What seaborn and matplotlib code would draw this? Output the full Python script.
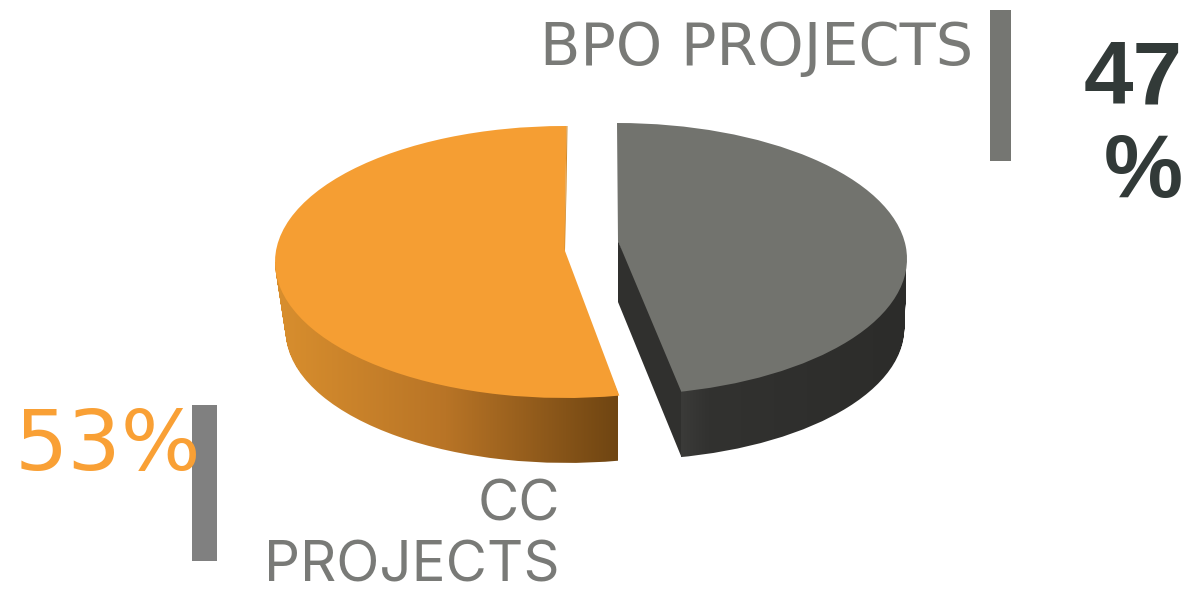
import numpy as np
import matplotlib
matplotlib.use("Agg")
import matplotlib.pyplot as plt
from matplotlib.path import Path
from matplotlib.patches import PathPatch
from matplotlib.colors import LinearSegmentedColormap
import seaborn as sns

categories = ["BPO PROJECTS", "CC PROJECTS"]
shares = [47, 53]
pct_labels = ["47\n%", "53%"]
cat_labels = ["BPO PROJECTS", "CC\nPROJECTS"]

sns.set_theme(style="white")
plt.rcParams["font.family"] = ["DejaVu Sans"]

W, H = 1196, 592
fig = plt.figure(figsize=(W / 100, H / 100), dpi=100)
ax = fig.add_axes([0, 0, 1, 1])

RX, RY, DEPTH = 290.0, 136.0, 69
# one data unit = RX pixels across, RY pixels down
def dx(px): return px / RX
def dy(py): return -py / RY

specs = {
    "BPO PROJECTS": dict(c=(617, 259), apex=(618, 241), top="#72736e", drift=6),
    "CC PROJECTS": dict(c=(565, 262), apex=(565, 251), top="#f59e33", drift=2),
}
walls = {
    "BPO PROJECTS": LinearSegmentedColormap.from_list("g", [(0, "#3b3b39"), (0.12, "#323230"), (1, "#2c2c2a")]),
    "CC PROJECTS": LinearSegmentedColormap.from_list("o", ["#d98f2e", "#b87426", "#6f4512"]),
}
spans = {"BPO PROJECTS": (681, 906), "CC PROJECTS": (274, 618)}

def one_slice(name, off=0):
    """One slice of the pie: the other share is drawn and removed at once."""
    s = specs[name]
    i = categories.index(name)
    start = 90 if i == 1 else 90 - shares[0] * 3.6
    frac = off / DEPTH
    wedges, _ = ax.pie([shares[i], shares[1 - i]], startangle=start,
                       center=(dx(s["c"][0] + s["drift"] * frac), dy(s["c"][1] + off)),
                       radius=1 - 0.03 * frac,
                       colors=[s["top"], "none"], frame=False,
                       wedgeprops=dict(linewidth=0, edgecolor="none"))
    wedges[1].remove()
    return wedges[0]

for name in categories:
    s = specs[name]
    # extruded wall: union of the slice shifted downward, shaded left to right
    parts = []
    for off in range(DEPTH, 0, -2):
        w = one_slice(name, off)
        parts.append(w.get_path().deepcopy())
        w.remove()
    clip = Path.make_compound_path(*parts)
    x0, x1 = spans[name]
    grad = np.linspace(0, 1, 256)[None, :]
    im = ax.imshow(grad, cmap=walls[name], extent=(dx(x0), dx(x1), dy(480), dy(262)),
                   aspect="auto", zorder=1)
    im.set_clip_path(PathPatch(clip, transform=ax.transData))
    # top face, with its inner corner moved back to the picture's apex
    w = one_slice(name)
    w.set_zorder(3)
    v = w.get_path().vertices
    c = np.array([dx(s["c"][0]), dy(s["c"][1])])
    near = np.hypot(*(v - c).T) < 1e-6
    v[near] = [dx(s["apex"][0]), dy(s["apex"][1])]

def poly(xs, ys, col, z):
    ax.fill([dx(x) for x in xs], [dy(y) for y in ys], color=col, zorder=z, lw=0)

# inner cut wall of the grey slice, drawn over the face up to the cut line
poly([618, 618, 681, 681], [241, 302, 456, 391], "#30302e", 3.2)
# top face of the orange slice reaches a little past its upright cut, with a thin shaded rim
poly([564, 566.5, 565.5, 564], [126, 126, 190, 251], "#f59e33", 3.2)
poly([566.5, 567.5, 566.5, 565, 564.5, 565.5], [126, 126, 190, 251, 248, 190], "#d18a2b", 3.5)

ax.set_aspect("auto")
ax.set_xlim(0, dx(W))
ax.set_ylim(dy(H), 0)
ax.axis("off")

def bar(x0, x1, y0, y1, col):
    poly([x0, x1, x1, x0], [y0, y0, y1, y1], col, 4)

bar(990, 1011, 10, 161, "#757672")
bar(192, 217, 405, 561, "#808080")

GREY = "#797a77"
ax.text(dx(973), dy(65), cat_labels[0], ha="right", va="baseline", fontsize=42.5, color=GREY, zorder=5)
ax.text(dx(560), dy(581), cat_labels[1], ha="right", va="baseline", fontsize=40.6, color=GREY,
        family="Inter", linespacing=1.2, zorder=5)
ax.text(dx(1183), dy(197), pct_labels[0], ha="right", va="baseline", fontsize=64, color="#323a38",
        fontweight="bold", family="Liberation Sans", linespacing=1.15, zorder=5)
ax.text(dx(201), dy(470), pct_labels[1], ha="right", va="baseline", fontsize=60.5, color="#f9a035", zorder=5)

fig.savefig("out.png", dpi=100)
